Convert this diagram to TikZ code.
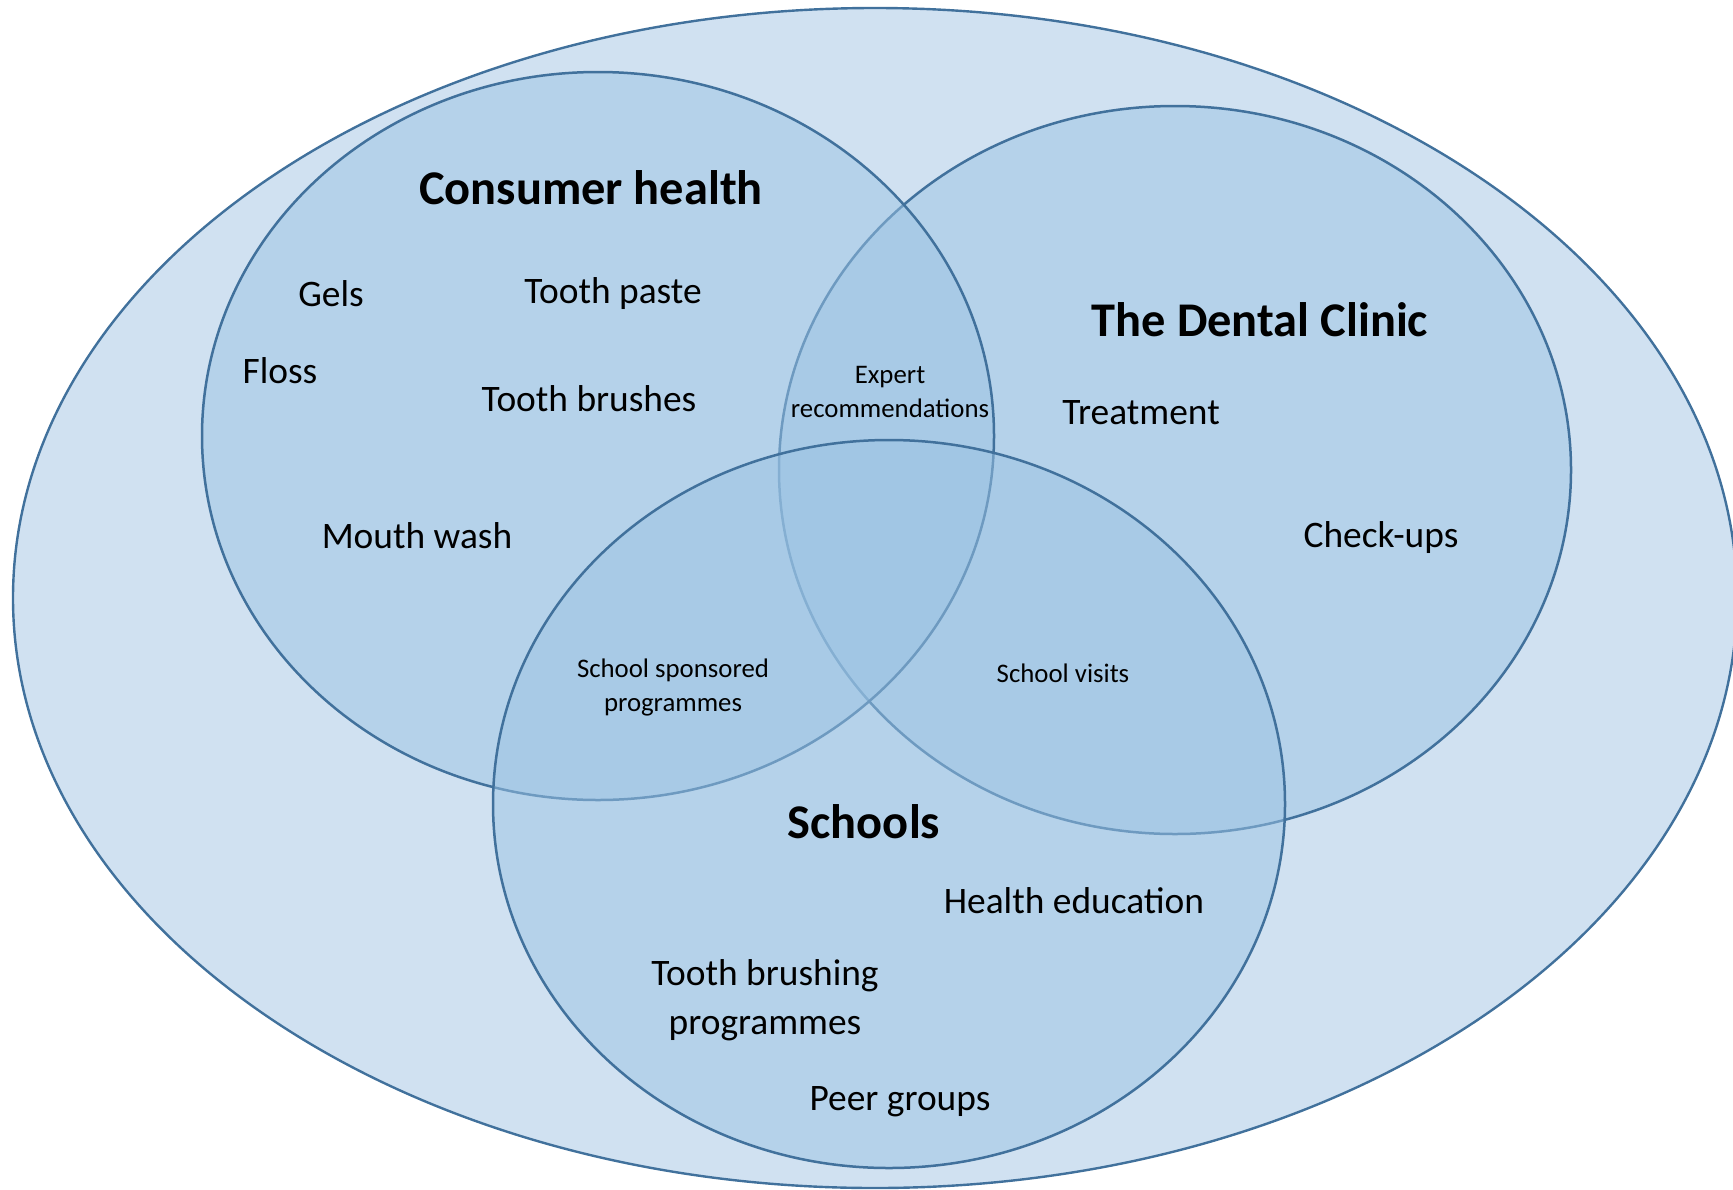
\documentclass[tikz,border=0pt]{standalone}
\usepackage{fontspec}
\setmainfont{Carlito}
\definecolor{outerfill}{RGB}{208,225,241}
\definecolor{setfill}{RGB}{156,196,228}
\definecolor{edge}{RGB}{65,113,156}
\begin{document}
\begin{tikzpicture}[x=0.5pt,y=-0.5pt,
  setcirc/.style={fill=setfill,fill opacity=0.5,draw=edge,draw opacity=1,line width=1.25pt},
  title/.style={font=\fontsize{24.2}{29}\selectfont\bfseries,text=black,inner sep=0pt},
  item/.style={font=\fontsize{18.7}{24.5}\selectfont,text=black,inner sep=0pt,align=center},
  small/.style={font=\fontsize{13.4}{17}\selectfont,text=black,inner sep=0pt,align=center}]
\useasboundingbox (0,0) rectangle (1733,1189);
% outer ellipse
\path[fill=outerfill,draw=edge,line width=1.2pt] (875,598) ellipse [x radius=431pt, y radius=295pt];
% sets (drawn in stacking order)
\path[setcirc] (1175,470) ellipse [x radius=198pt, y radius=182pt];
\path[setcirc] (598,436) ellipse [x radius=198pt, y radius=182pt];
\path[setcirc] (889,804) ellipse [x radius=198pt, y radius=182pt];
% titles
\node[title] (ch) at (591,188) {Consumer health};
\node[title] (dc) at (1260,320) {The Dental Clinic};
\node[title] (sc) at (864,822) {Schools};
% consumer health items
\node[item] (gels) at (331,294) {Gels};
\node[item] (paste) at (613,294) {Tooth paste};
\node[item] (floss) at (280,371) {Floss};
\node[item] (brushes) at (589,399) {Tooth brushes};
\node[item] (mouth) at (417,536) {Mouth wash};
% dental clinic items
\node[item] (treat) at (1141,413) {Treatment};
\node[item] (check) at (1381,538) {Check-ups};
% schools items
\node[item] (hedu) at (1074,901) {Health education};
\node[item] (tbp) at (765,1000) {Tooth brushing\\programmes};
\node[item] (peer) at (900,1102) {Peer groups};
% overlaps
\node[small] (expert) at (890,392) {Expert\\recommendations};
\node[small] (ssp) at (673,687) {School sponsored\\programmes};
\node[small] (visits) at (1063,673) {School visits};
\end{tikzpicture}
\end{document}
